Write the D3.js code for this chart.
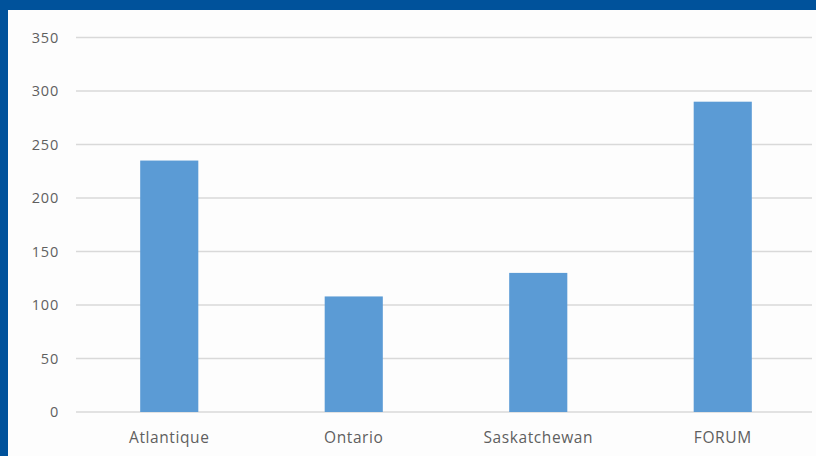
<!DOCTYPE html>
<html>
<head>
<meta charset="utf-8">
<script src="https://cdn.jsdelivr.net/npm/d3@7"></script>
<style>
  html, body { margin: 0; padding: 0; background: #00529b; }
  #chart { width: 816px; height: 456px; }
</style>
</head>
<body>
<div id="chart"></div>
<script>
// chart values
var categories = ["Atlantique", "Ontario", "Saskatchewan", "FORUM"];
var values = [235, 108, 130, 290];
var yTicks = [0, 50, 100, 150, 200, 250, 300, 350];

var W = 816, H = 456;

var svg = d3.select("#chart")
  .append("svg")
    .attr("width", W)
    .attr("height", H);

// blue frame with white panel
svg.append("rect")
  .attr("width", W).attr("height", H)
  .attr("fill", "#00529b");
svg.append("rect")
  .attr("x", 8).attr("y", 10)
  .attr("width", W - 8).attr("height", H - 10)
  .attr("fill", "#fdfdfd");

var x = d3.scaleBand()
  .domain(categories)
  .range([77, 815])
  .paddingInner(0.685)
  .paddingOuter(0.3425);

var y = d3.scaleLinear()
  .domain([0, 350])
  .range([412, 37.5]);

// gridlines
svg.append("g")
  .selectAll("line")
  .data(yTicks)
  .enter()
  .append("line")
    .attr("x1", 76)
    .attr("x2", 812)
    .attr("y1", function (d) { return y(d); })
    .attr("y2", function (d) { return y(d); })
    .attr("stroke", "#d9d9d9")
    .attr("stroke-width", 1.3);

// y axis labels
var yAxis = svg.append("g")
  .attr("transform", "translate(59,0)")
  .call(d3.axisLeft(y).tickValues(yTicks).tickSize(0).tickPadding(0));
yAxis.select(".domain").remove();
yAxis.selectAll("text")
  .style("font-family", "'Open Sans', sans-serif")
  .style("font-size", "14.5px")
  .style("letter-spacing", "0.8px")
  .attr("fill", "#5f5f5f");

// bars
svg.append("g")
  .selectAll("rect")
  .data(values)
  .enter()
  .append("rect")
    .attr("x", function (d, i) { return x(categories[i]); })
    .attr("y", function (d) { return y(d); })
    .attr("width", x.bandwidth())
    .attr("height", function (d) { return y(0) - y(d); })
    .attr("fill", "#5b9bd5");

// x axis labels
var xAxis = svg.append("g")
  .attr("transform", "translate(0," + y(0) + ")")
  .call(d3.axisBottom(x).tickSize(0).tickPadding(20));
xAxis.select(".domain").remove();
xAxis.selectAll("text")
  .style("font-family", "'Open Sans', sans-serif")
  .style("font-size", "15.5px")
  .style("letter-spacing", "0.6px")
  .attr("fill", "#5f5f5f");
</script>
</body>
</html>
